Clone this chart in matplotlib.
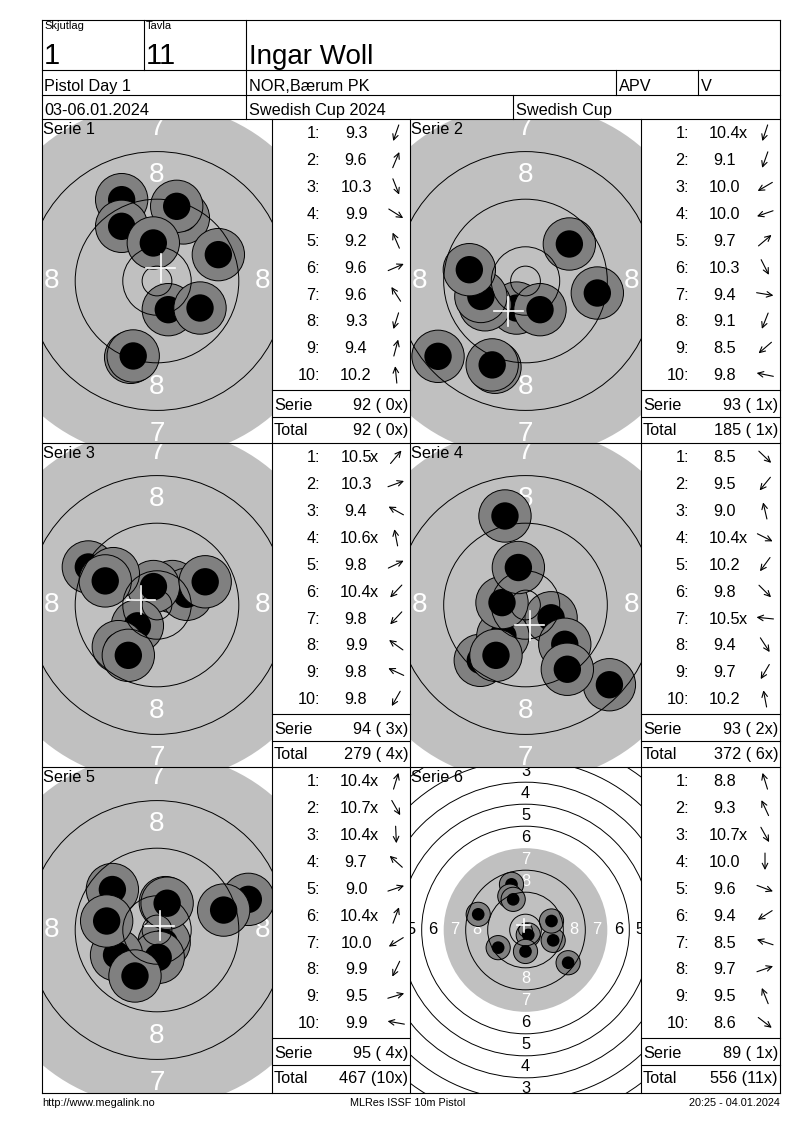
import numpy as np
import matplotlib.pyplot as plt
from matplotlib.patches import Circle

plt.rcParams['font.family'] = ['Liberation Sans', 'DejaVu Sans']

# header fields
squad = "1"
lane = "11"
shooter = "Ingar Woll"
event = "Pistol Day 1"
club = "NOR,Bærum PK"
cls = "APV"
cls2 = "V"
dates = "03-06.01.2024"
competition = "Swedish Cup 2024"
competition2 = "Swedish Cup"
footer_left = "http://www.megalink.no"
footer_mid = "MLRes ISSF 10m Pistol"
footer_right = "20:25 - 04.01.2024"

# decimal scores per series (shot 1..10)
scores = [
    [9.3, 9.6, 10.3, 9.9, 9.2, 9.6, 9.6, 9.3, 9.4, 10.2],
    [10.4, 9.1, 10.0, 10.0, 9.7, 10.3, 9.4, 9.1, 8.5, 9.8],
    [10.5, 10.3, 9.4, 10.6, 9.8, 10.4, 9.8, 9.9, 9.8, 9.8],
    [8.5, 9.5, 9.0, 10.4, 10.2, 9.8, 10.5, 9.4, 9.7, 10.2],
    [10.4, 10.7, 10.4, 9.7, 9.0, 10.4, 10.0, 9.9, 9.5, 9.9],
    [8.8, 9.3, 10.7, 10.0, 9.6, 9.4, 8.5, 9.7, 9.5, 8.6],
]
# shots marked as inner ten (x)
inner_tens = [[], [1], [1, 4, 6], [4, 7], [1, 2, 3, 6], [3]]

# shot positions on the target in mm (right / up from centre)
shot_x = [
    [-4.43, 4.43, 1.90, 7.23, -5.94, 10.31, -5.94, -4.00, 3.31, -0.62],
    [-1.50, -5.13, -6.80, -7.50, 7.37, 2.44, 12.07, -5.60, -14.70, -9.44],
    [2.60, 5.00, -11.54, -0.60, 8.10, -3.30, -6.50, -7.34, -8.70, -4.82],
    [14.10, -7.60, -3.45, 4.30, -3.80, 6.60, -3.95, 7.03, -4.96, -1.20],
    [1.40, 1.20, 0.20, -7.50, 15.35, 1.70, -6.80, -3.70, 11.20, -8.46],
    [-5.09, -5.70, 1.00, 0.00, 10.06, -9.94, -17.20, 9.45, -4.48, 15.50],
]
shot_y = [
    [-12.83, 10.60, -4.82, -4.54, 13.67, 4.43, 9.19, -12.60, 12.55, 6.39],
    [-4.55, -14.50, -4.00, -2.60, 6.22, -4.82, -2.02, -14.10, -12.66, 1.90],
    [3.10, 1.80, 6.39, 3.10, 3.90, -3.50, -7.00, 5.27, 4.05, -8.46],
    [-13.40, -9.30, 14.96, -2.15, -5.20, -6.60, 0.40, -10.80, -8.46, 6.30],
    [4.60, -2.10, -4.60, 6.80, 5.15, 4.50, -4.20, -7.73, 3.35, 1.51],
    [16.60, 12.30, -1.80, -7.80, -3.76, -6.42, 5.70, 3.27, 11.15, -11.90],
]

W, H = 800, 1130
fig = plt.figure(figsize=(8, 11.3), dpi=100)

px_per_mm = [5.95, 5.95, 5.95, 5.95, 5.95, 2.75]
panel_rows = [(119, 443), (443, 767), (767, 1093)]
target_cols = [(42, 272), (410, 641)]
score_cols = [(272, 410), (641, 780)]
FS = 11.7

# ring outer radii in mm, ring 10 .. ring 1
ring_r = {k: 5.75 + 8 * (10 - k) for k in range(1, 11)}


def draw_target(x0, x1, y0, y1, s, xs, ys):
    ax = fig.add_axes([x0 / W, 1 - y1 / H, (x1 - x0) / W, (y1 - y0) / H])
    hw, hh = (x1 - x0) / 2 / s, (y1 - y0) / 2 / s
    ax.set_xlim(-hw, hw)
    ax.set_ylim(-hh, hh)
    ax.axis('off')
    ax.add_patch(Circle((0, 0), ring_r[7], fc='#c0c0c0', ec='none', zorder=1))
    fs = 4.6 + 2.6 * s
    for k in range(1, 9):
        r = ring_r[k] - 4
        col = 'white' if k >= 7 else 'black'
        for px, py in [(0, r), (0, -r), (r, 0), (-r, 0)]:
            ax.text(px, py, str(k), ha='center', va='center', color=col,
                    fontsize=fs, clip_on=True, zorder=2)
    for x, y in zip(xs, ys):
        ax.add_patch(Circle((x, y), 4.4, fc='#808080', ec='black', lw=0.7, zorder=3))
        ax.add_patch(Circle((x, y), 2.3, fc='black', ec='none', zorder=3))
    radii = [2.5] + [ring_r[k] for k in range(1, 11) if k != 7]
    for r in radii:
        ax.add_patch(Circle((0, 0), r, fill=False, ec='black', lw=0.7, zorder=4))
    mx, my = np.mean(xs), np.mean(ys)
    ax.plot([mx - 2.4, mx + 2.4], [my, my], color='white', lw=1.2, zorder=5)
    ax.plot([mx, mx], [my - 2.4, my + 2.4], color='white', lw=1.2, zorder=5)


for i in range(6):
    y0, y1 = panel_rows[i // 2]
    x0, x1 = target_cols[i % 2]
    draw_target(x0, x1, y0, y1, px_per_mm[i], shot_x[i], shot_y[i])

ov = fig.add_axes([0, 0, 1, 1], zorder=10)
ov.set_xlim(0, W)
ov.set_ylim(H, 0)
ov.axis('off')


def hl(y, xa, xb):
    ov.plot([xa, xb], [y, y], color='black', lw=0.8)


def vl(x, ya, yb):
    ov.plot([x, x], [ya, yb], color='black', lw=0.8)


def put(x, base, s, fs=FS, ha='left'):
    ov.text(x, base, s, fontsize=fs, ha=ha, va='baseline', color='black')


# frame and header grid
for y in [20, 70, 95, 119, 443, 767, 1093]:
    hl(y, 42, 780)
vl(42, 20, 1093)
vl(780, 20, 1093)
vl(144, 20, 70)
vl(246, 20, 119)
vl(616, 70, 95)
vl(698, 70, 95)
vl(513, 95, 119)
for x in [272, 410, 641]:
    vl(x, 119, 1093)

put(44, 29, "Skjutlag", 8)
put(146, 29, "Tavla", 8)
put(44, 63.5, squad, 21)
put(146, 63.5, lane, 21)
put(249, 63.5, shooter, 20)
put(44, 91, event)
put(249, 91, club)
put(619, 91, cls)
put(701, 91, cls2)
put(44, 115, dates)
put(249, 115, competition)
put(516, 115, competition2)

total, total_x = 0, 0
for i in range(6):
    top = panel_rows[i // 2][0]
    tx0 = target_cols[i % 2][0]
    c0, c1 = score_cols[i % 2]
    put(tx0 + 1, top + 15.5, f"Serie {i + 1}")
    for j, sc in enumerate(scores[i]):
        base = top + 19.5 + 26.85 * j
        put(c0 + 48, base, f"{j + 1}:", ha='right')
        put(c0 + 84, base, f"{sc:.1f}", ha='center')
        if j + 1 in inner_tens[i]:
            put(c0 + 98, base, "x")
        ang = np.arctan2(shot_y[i][j], shot_x[i][j])
        cx, cy = c0 + 124, base - 5.5
        dx, dy = 8.5 * np.cos(ang), -8.5 * np.sin(ang)
        ov.annotate('', xy=(cx + dx, cy + dy), xytext=(cx - dx, cy - dy),
                    arrowprops=dict(arrowstyle='->', lw=0.8, color='black',
                                    shrinkA=0, shrinkB=0, mutation_scale=10))
    serie = sum(int(v + 1e-9) for v in scores[i])
    nx = len(inner_tens[i])
    total += serie
    total_x += nx
    hl(top + 271, c0, c1)
    hl(top + 298, c0, c1)
    put(c0 + 2, top + 291, "Serie")
    put(c1 - 2, top + 291, f"{serie} ({nx:2d}x)", ha='right')
    put(c0 + 2, top + 316, "Total")
    put(c1 - 2, top + 316, f"{total} ({total_x:2d}x)", ha='right')

put(42, 1106, footer_left, 7.8)
put(408, 1106, footer_mid, 7.8, ha='center')
put(780, 1106, footer_right, 7.8, ha='right')

fig.savefig("out.png", dpi=100)
